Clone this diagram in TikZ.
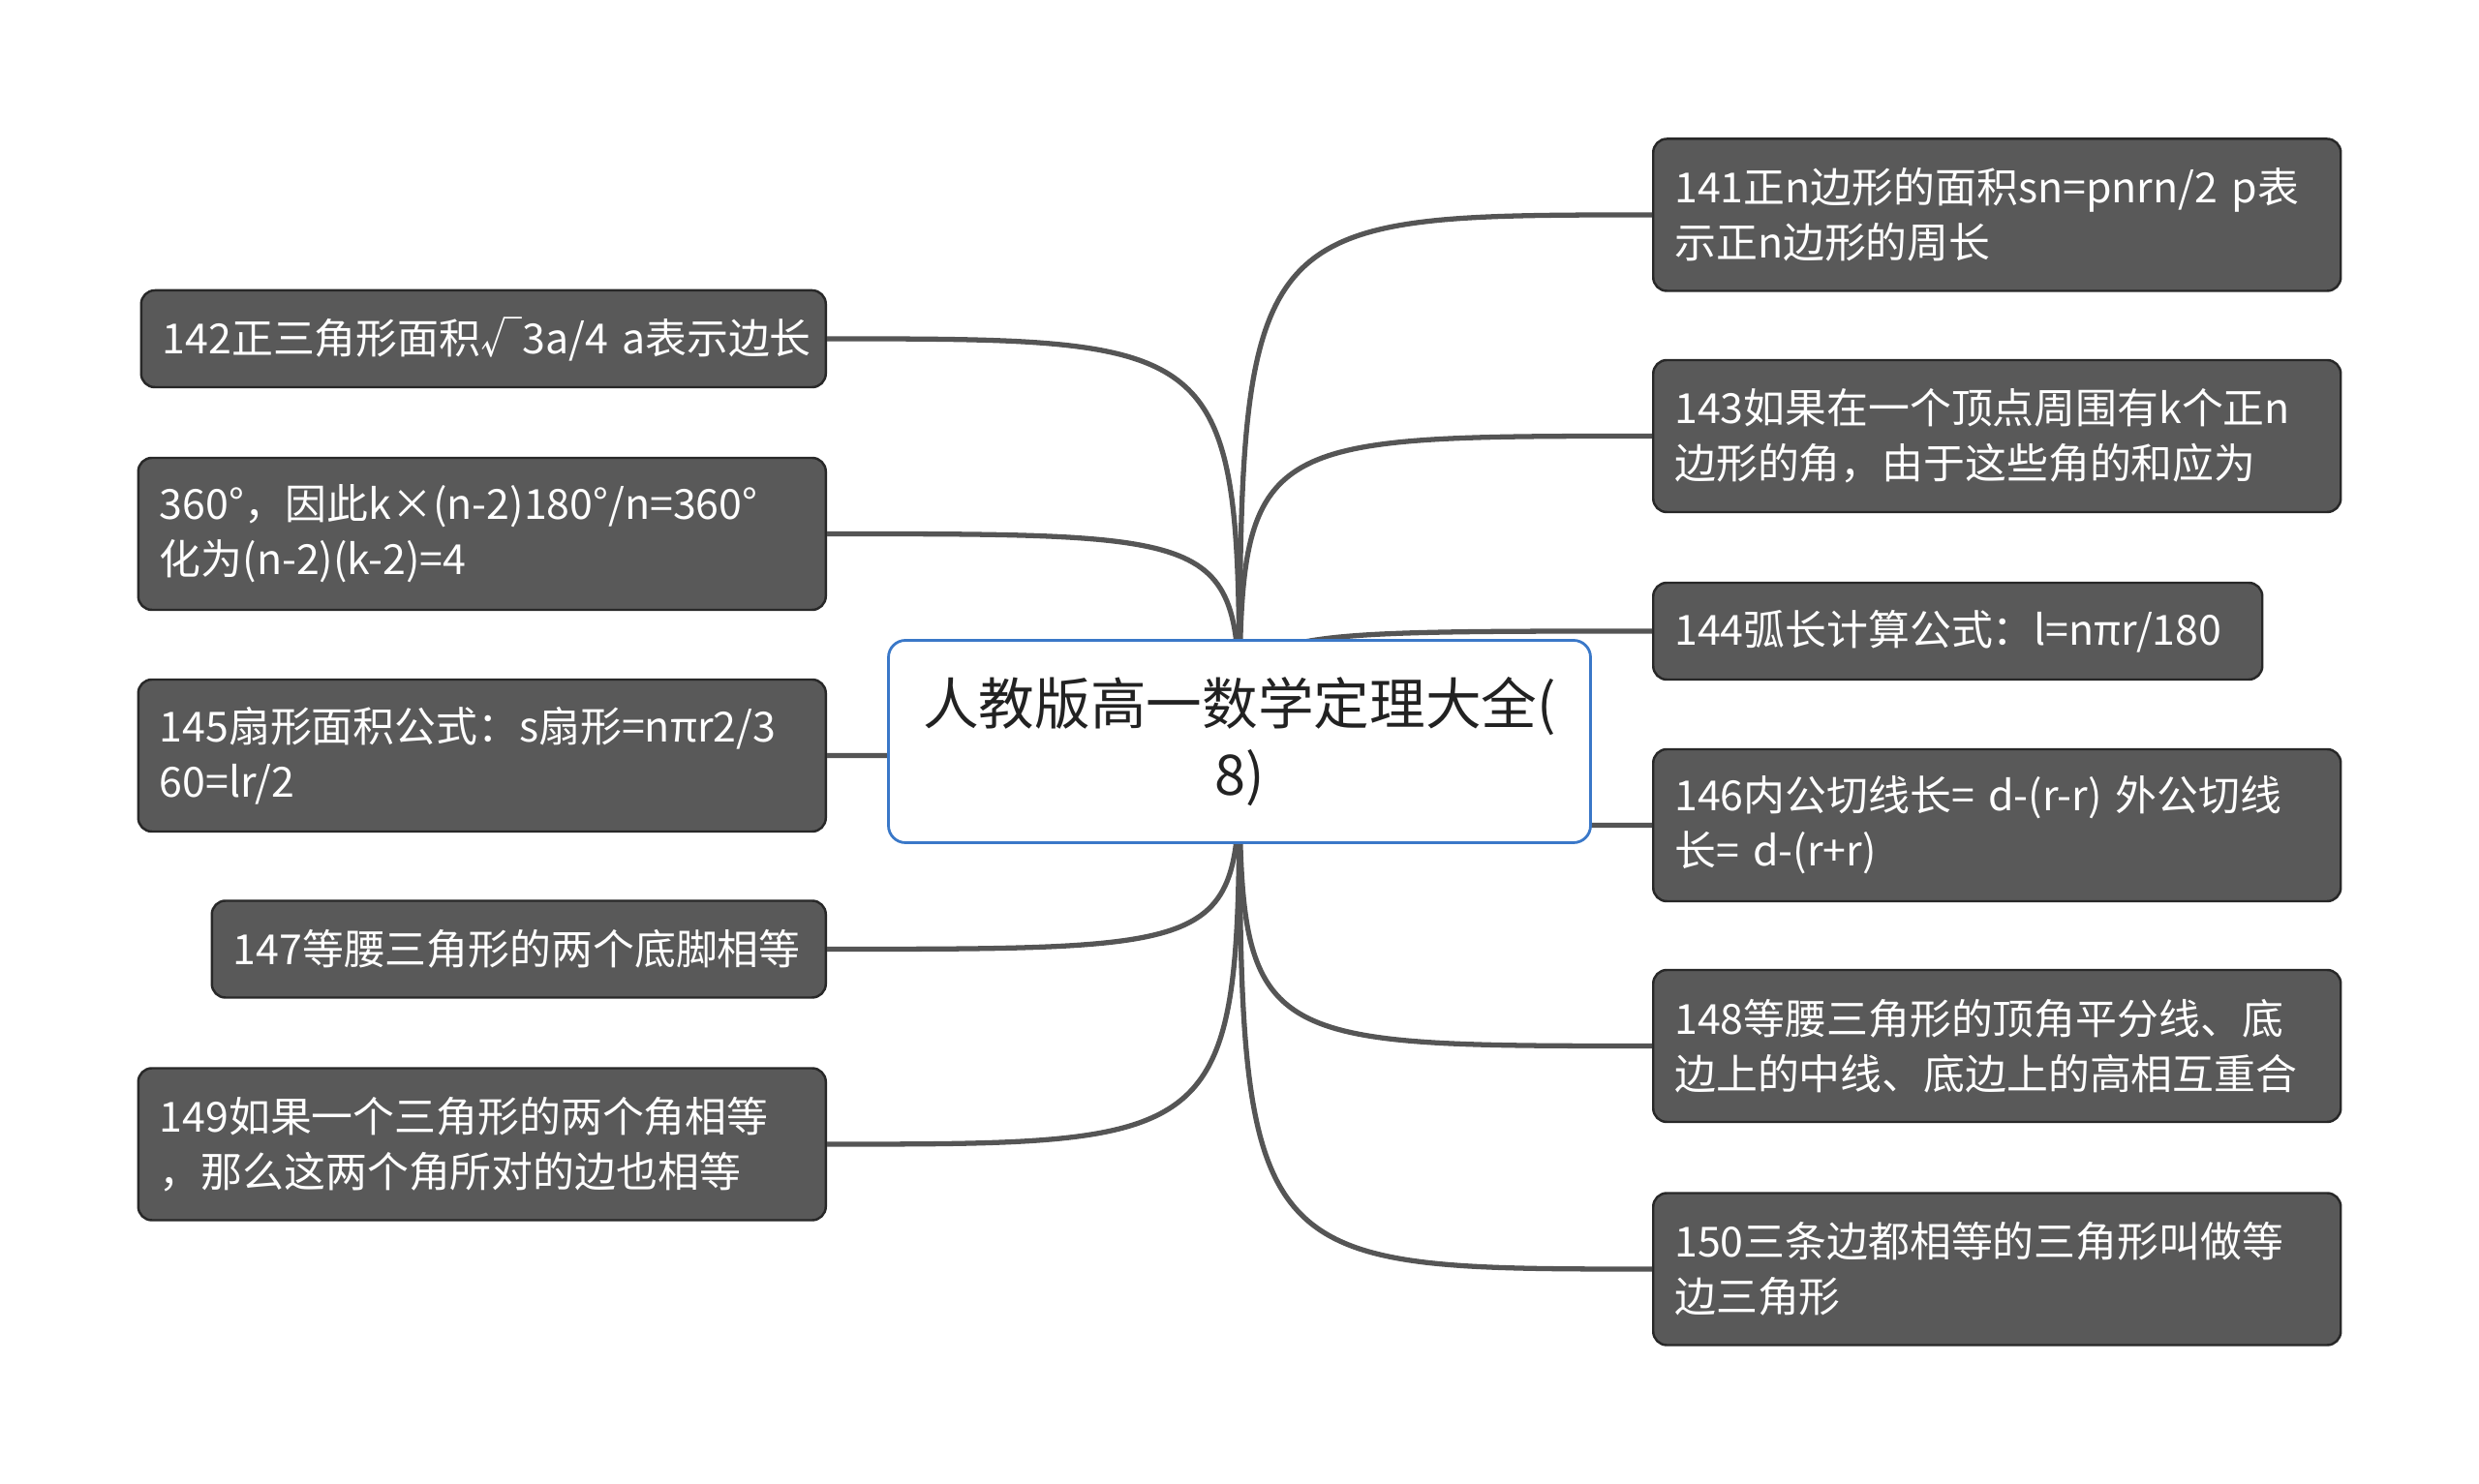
\documentclass[tikz,border=0pt]{standalone}
\usepackage{fontspec}
\setmainfont{Noto Sans CJK SC}
\definecolor{leafgray}{RGB}{89,89,89}
\definecolor{leafedge}{RGB}{40,40,40}
\definecolor{edgegray}{RGB}{85,85,85}
\definecolor{rootblue}{RGB}{58,120,200}
\definecolor{roottext}{RGB}{34,34,34}
\usetikzlibrary{positioning,calc}

\begin{document}
\begin{tikzpicture}[
        leaf/.style={rectangle, rounded corners=4pt, fill=leafgray, draw=leafedge, line width=0.7pt,
            text=white, align=left, inner xsep=0.22cm, inner ysep=0pt, text width=6.66cm,
            minimum height=1.57cm, font=\fontsize{12.2}{16.3}\selectfont},
        rootbox/.style={rectangle, rounded corners=5pt, fill=white, draw=rootblue, line width=0.8pt,
            text=roottext, align=center, minimum width=7.25cm, minimum height=2.09cm,
            font=\fontsize{16.4}{20.9}\selectfont},
        branch/.style={draw=edgegray, line width=1.5pt}
    ]
            \useasboundingbox (0,0) rectangle (25.6,15.33);

            \node[leaf, anchor=west] (n141) at (17.06,13.11) {141正n边形的面积sn=pnrn/2~p表\\示正n边形的周长};
            \node[leaf, anchor=west] (n143) at (17.06,10.825) {143如果在一个顶点周围有k个正n\\边形的角，由于这些角的和应为};
            \node[leaf, anchor=west, text width=5.85cm, minimum height=1.0cm] (n144) at (17.06,8.81) {144弧长计算公式：l=nπr/180};
            \node[leaf, anchor=west] (n146) at (17.06,6.805) {146内公切线长=~d-(r-r)~外公切线\\长=~d-(r+r)};
            \node[leaf, anchor=west] (n148) at (17.06,4.525) {148等腰三角形的顶角平分线、底\\边上的中线、底边上的高相互重合};
            \node[leaf, anchor=west] (n150) at (17.06,2.22) {150三条边都相等的三角形叫做等\\边三角形};

            \node[leaf, anchor=east, text width=6.63cm, minimum height=1.0cm] (n142) at (8.54,11.83) {142正三角形面积√3a/4~a表示边长};
            \node[leaf, anchor=east] (n360) at (8.54,9.815) {360°，因此k×(n-2)180°/n=360°\\化为(n-2)(k-2)=4};
            \node[leaf, anchor=east] (n145) at (8.54,7.525) {145扇形面积公式：s扇形=nπr2/3\\60=lr/2};
            \node[leaf, anchor=east, text width=5.90cm, minimum height=1.0cm] (n147) at (8.54,5.525) {147等腰三角形的两个底脚相等};
            \node[leaf, anchor=east] (n149) at (8.54,3.51) {149如果一个三角形的两个角相等\\，那么这两个角所对的边也相等};

            \coordinate (hub) at (12.8,7.67);
            \foreach \n in {n141,n143,n144,n146,n148,n150}
                \draw[branch] (hub) .. controls (hub |- \n.west) .. (\n.west);
            \foreach \n in {n142,n360,n145,n147,n149}
                \draw[branch] (hub) .. controls (hub |- \n.east) .. (\n.east);

            \node[rootbox] (root) at (hub) {人教版高一数学定理大全(\\8)};
        \end{tikzpicture}
\end{document}
